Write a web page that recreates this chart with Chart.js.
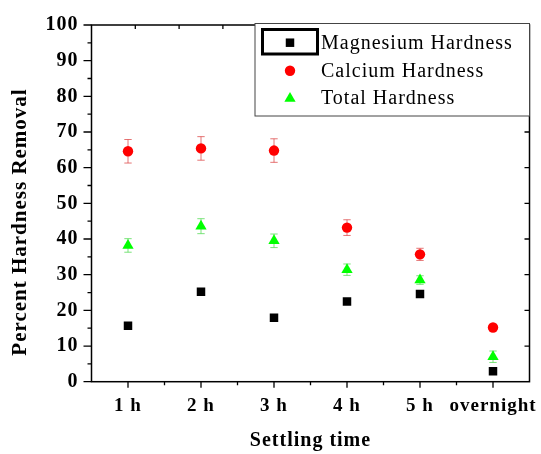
<!DOCTYPE html>
<html lang="en">
<head>
<meta charset="utf-8">
<title>Percent Hardness Removal</title>
<script src="https://cdn.jsdelivr.net/npm/chart.js"></script>
<style>
  html, body { margin: 0; padding: 0; background: #fff; }
  .chart-container { width: 541px; height: 454px; }
</style>
</head>
<body>
<div class="chart-container"><canvas id="myChart"></canvas></div>
<script>
// values
const categories = ['1 h', '2 h', '3 h', '4 h', '5 h', 'overnight'];
const magnesium = [15.7, 25.2, 17.9, 22.5, 24.6, 2.9];
const magnesiumErr = [0.5, 0.8, 0.5, 0.6, 0.9, 0.5];
const calcium = [64.6, 65.4, 64.8, 43.2, 35.7, 15.2];
const calciumErr = [3.3, 3.3, 3.3, 2.2, 1.7, 0.6];
const total = [38.2, 43.6, 39.5, 31.4, 28.5, 7.0];
const totalErr = [1.9, 2.1, 1.9, 1.6, 1.2, 1.6];
const yTicks = [0, 10, 20, 30, 40, 50, 60, 70, 80, 90, 100];

const SERIF = "'Liberation Serif', 'Times New Roman', serif";
const PLOT_LEFT = 91.5, PLOT_TOP = 22, PLOT_BOTTOM = 381.7, RIGHT_PAD = 11.5;

// error bars drawn under the markers, through the chart scales
const errorBars = {
  id: 'errorBars',
  beforeDatasetsDraw(chart) {
    const ctx = chart.ctx;
    const y = chart.scales.y;
    chart.data.datasets.forEach((ds, i) => {
      const meta = chart.getDatasetMeta(i);
      ctx.save();
      ctx.strokeStyle = ds.errColor;
      ctx.lineWidth = 1;
      meta.data.forEach((pt, j) => {
        const v = ds.data[j], e = ds.errors[j];
        const top = y.getPixelForValue(v + e), bot = y.getPixelForValue(v - e);
        ctx.beginPath();
        ctx.moveTo(pt.x, top); ctx.lineTo(pt.x, bot);
        ctx.moveTo(pt.x - 3.7, top); ctx.lineTo(pt.x + 3.7, top);
        ctx.moveTo(pt.x - 3.7, bot); ctx.lineTo(pt.x + 3.7, bot);
        ctx.stroke();
      });
      ctx.restore();
    });
  }
};

// box frame, origin-style ticks, y title and legend
const frameAndLegend = {
  id: 'frameAndLegend',
  beforeUpdate(chart) { chart.ctx.letterSpacing = '1px'; },
  beforeDraw(chart) { chart.ctx.letterSpacing = '1px'; },
  afterDatasetsDraw(chart) {
    const ctx = chart.ctx;
    const a = chart.chartArea;
    const x = chart.scales.x, y = chart.scales.y;
    ctx.save();
    ctx.strokeStyle = '#000';
    ctx.lineWidth = 1.5;
    ctx.strokeRect(a.left, a.top, a.right - a.left, a.bottom - a.top);
    ctx.lineWidth = 1.3;
    ctx.beginPath();
    // left axis, outward
    for (let v = 0; v <= 100; v += 5) {
      const py = y.getPixelForValue(v);
      ctx.moveTo(a.left, py); ctx.lineTo(a.left - (v % 10 === 0 ? 8 : 4), py);
    }
    // right axis, inward
    for (let v = 10; v < 100; v += 10) {
      const py = y.getPixelForValue(v);
      ctx.moveTo(a.right, py); ctx.lineTo(a.right - 5, py);
    }
    // bottom axis, outward
    for (let i = 0; i < categories.length; i++) {
      const px = x.getPixelForValue(i);
      ctx.moveTo(px, a.bottom); ctx.lineTo(px, a.bottom + 6);
      if (i < categories.length - 1) {
        const mx = (px + x.getPixelForValue(i + 1)) / 2;
        ctx.moveTo(mx, a.bottom); ctx.lineTo(mx, a.bottom + 3.5);
      }
    }
    // top axis, inward
    for (let k = 1; k < 10; k++) {
      const px = a.left + (a.right - a.left) * k / 10;
      ctx.moveTo(px, a.top); ctx.lineTo(px, a.top + 4);
    }
    ctx.stroke();

    // y title
    ctx.save();
    ctx.translate(21, 222);
    ctx.rotate(-Math.PI / 2);
    ctx.font = 'bold 21px ' + SERIF;
    ctx.fillStyle = '#000';
    ctx.textAlign = 'center';
    ctx.textBaseline = 'middle';
    ctx.fillText('Percent Hardness Removal', 0, 0);
    ctx.restore();

    // legend
    const lx = 255, ly = 23.5, lw = a.right - 255, lh = 92.5;
    ctx.fillStyle = '#fff';
    ctx.fillRect(lx, ly, lw, lh);
    ctx.strokeStyle = '#444';
    ctx.lineWidth = 1;
    ctx.strokeRect(lx, ly, lw, lh);
    ctx.strokeStyle = '#000';
    ctx.lineWidth = 3;
    ctx.strokeRect(262.5, 29.5, 55, 24.5);
    ctx.font = '20px ' + SERIF;
    ctx.textBaseline = 'alphabetic';
    ctx.textAlign = 'left';
    const rows = [49.3, 76.5, 104];
    const marks = [42.7, 70.7, 98.5];
    chart.data.datasets.forEach((ds, i) => {
      ctx.fillStyle = ds.backgroundColor;
      Chart.helpers.drawPoint(ctx, { pointStyle: ds.pointStyle, radius: ds.pointRadius, borderWidth: 0, rotation: 0 }, 290, marks[i]);
      ctx.fillStyle = '#000';
      ctx.fillText(ds.label, 321, rows[i]);
    });
    ctx.restore();
  }
};

const ctx = document.getElementById('myChart').getContext('2d');
const chart = new Chart(ctx, {
  type: 'line',
  data: {
    labels: categories,
    datasets: [
      {
        label: 'Magnesium Hardness', data: magnesium, errors: magnesiumErr,
        errColor: '#8a8a8a', pointStyle: 'rect', pointRadius: 6,
        backgroundColor: '#000', borderColor: '#000', borderWidth: 0, showLine: false
      },
      {
        label: 'Calcium Hardness', data: calcium, errors: calciumErr,
        errColor: 'rgba(220,70,70,0.75)', pointStyle: 'circle', pointRadius: 5.2,
        backgroundColor: '#ff0000', borderColor: '#ff0000', borderWidth: 0, showLine: false
      },
      {
        label: 'Total Hardness', data: total, errors: totalErr,
        errColor: 'rgba(90,220,90,0.8)', pointStyle: 'triangle', pointRadius: 6.5,
        backgroundColor: '#00ff00', borderColor: '#00ff00', borderWidth: 0, showLine: false
      }
    ]
  },
  options: {
    responsive: true,
    maintainAspectRatio: false,
    devicePixelRatio: 1,
    animation: false,
    layout: { padding: { top: PLOT_TOP, right: RIGHT_PAD, left: 0, bottom: 0 } },
    plugins: { legend: { display: false }, tooltip: { enabled: false } },
    elements: { point: { hoverRadius: 6 } },
    scales: {
      x: {
        type: 'category',
        offset: true,
        grid: { display: false, drawTicks: false },
        border: { display: false },
        ticks: {
          color: '#000', padding: 13, maxRotation: 0, minRotation: 0, autoSkip: false,
          font: { family: SERIF, size: 19, weight: 'bold' }
        },
        title: {
          display: true, text: 'Settling time', color: '#000',
          padding: { top: 0, bottom: 1 },
          font: { family: SERIF, size: 20, weight: 'bold' }
        },
        afterFit(scale) {
          scale.height = 454 - PLOT_BOTTOM;
          scale.paddingLeft = 0;
          scale.paddingRight = 0;
        }
      },
      y: {
        min: 0, max: 100,
        afterBuildTicks(scale) { scale.ticks = yTicks.map(v => ({ value: v })); },
        grid: { display: false, drawTicks: false },
        border: { display: false },
        ticks: {
          color: '#000', padding: 13,
          font: { family: SERIF, size: 20, weight: 'bold' }
        },
        afterFit(scale) { scale.width = PLOT_LEFT; }
      }
    }
  },
  plugins: [errorBars, frameAndLegend]
});
</script>
</body>
</html>
